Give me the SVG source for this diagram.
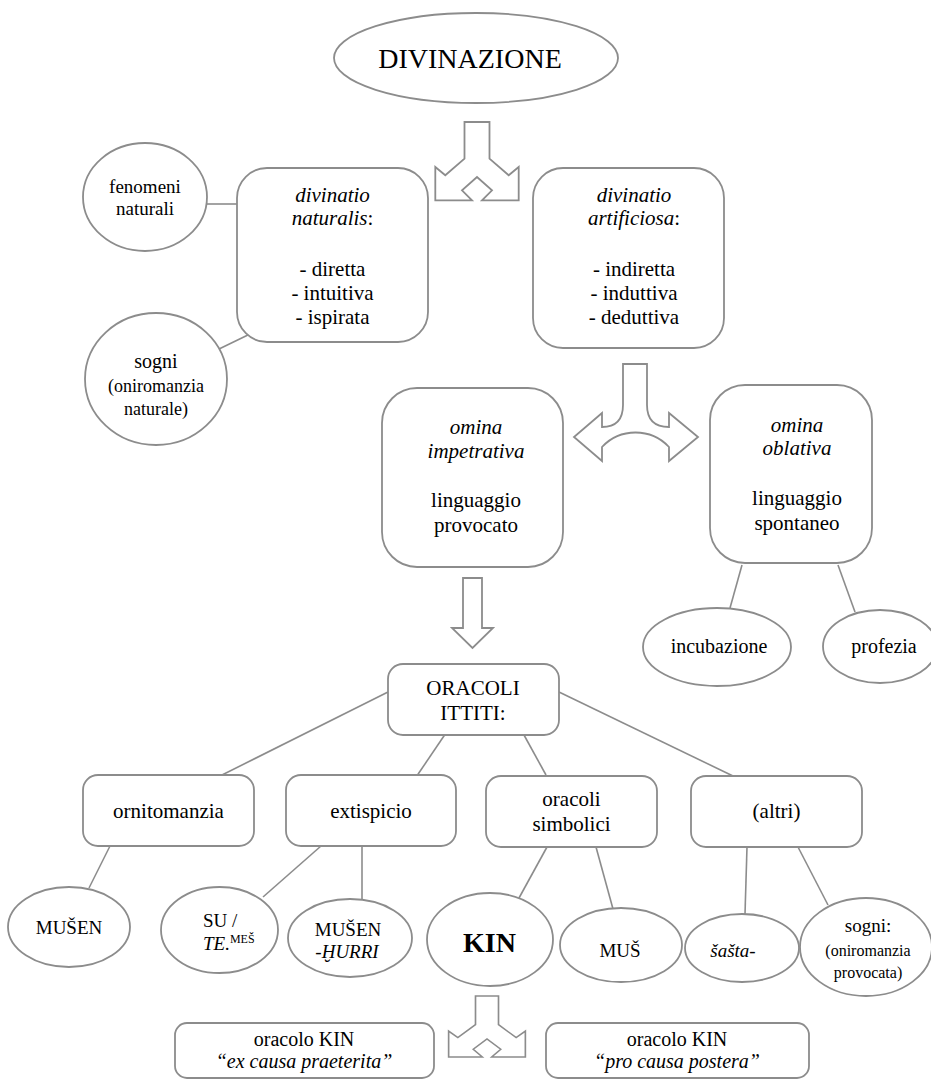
<svg xmlns="http://www.w3.org/2000/svg" xmlns:xlink="http://www.w3.org/1999/xlink" width="931" height="1081" viewBox="0 0 931 1081">
<style>
.n{fill:#fff;stroke:#8c8c8c;stroke-width:1.8}
.c{stroke:#8c8c8c;stroke-width:1.6;fill:none}
.a{fill:#fff;stroke:#8c8c8c;stroke-width:1.8;stroke-linejoin:miter}
.t{font-family:"Liberation Serif","Times New Roman","DejaVu Serif",serif;text-anchor:middle;fill:#000}
.st{text-anchor:start}
.f28{font-size:28px}
.f21{font-size:21px}
.f20{font-size:20px}
.f19{font-size:19px}
.f18{font-size:18px}
.f16{font-size:16px}
.f12{font-size:12px}
.i{font-style:italic}
.b{font-weight:bold}
</style>
<defs>
<path id="split" d="M-12.5,0 H12.5 V36.7 L31.7,53.3 L41.7,45 V78.3 H5 L15,68.3 L0,55 L-15,68.3 L-5,78.3 H-41.7 V45 L-31.7,53.3 L-12.5,36.7 Z"/>
</defs>
<rect width="931" height="1081" fill="#fff"/>
<g id="connectors">
<line class="c" x1="207" y1="204" x2="237" y2="204"/>
<line class="c" x1="217" y1="350" x2="252" y2="333"/>
<line class="c" x1="742" y1="565" x2="730" y2="608"/>
<line class="c" x1="838" y1="565" x2="855" y2="612"/>
<line class="c" x1="388" y1="692" x2="222" y2="775"/>
<line class="c" x1="444.6" y1="735" x2="417.5" y2="775"/>
<line class="c" x1="524" y1="735" x2="546" y2="775"/>
<line class="c" x1="559" y1="692" x2="733" y2="776"/>
<line class="c" x1="110" y1="846" x2="89" y2="888"/>
<line class="c" x1="321" y1="846" x2="263" y2="897"/>
<line class="c" x1="362" y1="846" x2="362" y2="899"/>
<line class="c" x1="547" y1="847" x2="519" y2="898"/>
<line class="c" x1="596" y1="847" x2="613" y2="909"/>
<line class="c" x1="747" y1="847" x2="745" y2="914"/>
<line class="c" x1="798" y1="847" x2="828" y2="905"/>
<use xlink:href="#split" class="a" transform="translate(477,122)"/>
<path class="a" d="M623,364 H647 V405 Q647,427 669,427 V413 L698,437 L669,461 V447 A46,46 0 0 0 602,447 V461 L574,437 L602,413 V427 Q623,427 623,405 Z"/>
<path class="a" d="M463,578 H482 V628 H493 L472.5,648 L452,628 H463 Z"/>
<use xlink:href="#split" class="a" transform="translate(487,996) scale(0.92,0.78)"/>
</g>
<g id="divinazione">
<ellipse class="n" cx="476" cy="58" rx="142" ry="45"/>
<text class="t f28" x="470" y="68">DIVINAZIONE</text>
</g>
<g id="fenomeni">
<ellipse class="n" cx="145" cy="197" rx="62" ry="54"/>
<text class="t f19" x="145" y="193">fenomeni</text>
<text class="t f19" x="145" y="215">naturali</text>
</g>
<g id="sogni-naturale">
<ellipse class="n" cx="156" cy="379" rx="71" ry="66"/>
<text class="t f20" x="156" y="368">sogni</text>
<text class="t f18" x="156" y="392">(oniromanzia</text>
<text class="t f18" x="156" y="415">naturale)</text>
</g>
<g id="naturalis">
<rect class="n" x="237" y="168" width="191" height="174" rx="30"/>
<text class="t f21 i" x="332.5" y="201.5">divinatio</text>
<text class="t f21" x="332.5" y="224.5"><tspan class="i">naturalis</tspan>:</text>
<text class="t f21" x="332.5" y="275.5">- diretta</text>
<text class="t f21" x="332.5" y="299.5">- intuitiva</text>
<text class="t f21" x="332.5" y="324">- ispirata</text>
</g>
<g id="artificiosa">
<rect class="n" x="533" y="168" width="191" height="180" rx="30"/>
<text class="t f21 i" x="634" y="201.5">divinatio</text>
<text class="t f21" x="634" y="224.5"><tspan class="i">artificiosa</tspan>:</text>
<text class="t f21" x="634" y="275.5">- indiretta</text>
<text class="t f21" x="634" y="299.5">- induttiva</text>
<text class="t f21" x="634" y="324">- deduttiva</text>
</g>
<g id="impetrativa">
<rect class="n" x="382" y="388" width="181" height="179" rx="35"/>
<text class="t f21 i" x="476" y="434">omina</text>
<text class="t f21 i" x="476" y="458">impetrativa</text>
<text class="t f21" x="476" y="507">linguaggio</text>
<text class="t f21" x="476" y="532">provocato</text>
</g>
<g id="oblativa">
<rect class="n" x="710" y="385" width="162" height="178" rx="35"/>
<text class="t f21 i" x="797" y="432">omina</text>
<text class="t f21 i" x="797" y="455">oblativa</text>
<text class="t f21" x="797" y="505">linguaggio</text>
<text class="t f21" x="797" y="530">spontaneo</text>
</g>
<g id="incubazione">
<ellipse class="n" cx="717" cy="647" rx="74" ry="39"/>
<text class="t f20" x="719" y="653">incubazione</text>
</g>
<g id="profezia">
<ellipse class="n" cx="880" cy="646.5" rx="57" ry="36.5"/>
<text class="t f20" x="884" y="653">profezia</text>
</g>
<g id="oracoli-ittiti">
<rect class="n" x="388" y="664" width="171" height="71" rx="15"/>
<text class="t f21" x="473" y="695">ORACOLI</text>
<text class="t f21" x="473" y="720">ITTITI:</text>
</g>
<g id="ornitomanzia">
<rect class="n" x="83" y="775" width="171" height="71" rx="15"/>
<text class="t f21" x="168.5" y="818">ornitomanzia</text>
</g>
<g id="extispicio">
<rect class="n" x="286" y="775" width="170" height="71" rx="15"/>
<text class="t f21" x="371" y="818">extispicio</text>
</g>
<g id="simbolici">
<rect class="n" x="486" y="776" width="171" height="71" rx="15"/>
<text class="t f21" x="571.5" y="806">oracoli</text>
<text class="t f21" x="571.5" y="831">simbolici</text>
</g>
<g id="altri">
<rect class="n" x="691" y="776" width="171" height="71" rx="15"/>
<text class="t f21" x="776.5" y="818">(altri)</text>
</g>
<g id="musen">
<ellipse class="n" cx="69" cy="927" rx="61" ry="40"/>
<text class="t f19" x="69" y="934">MUŠEN</text>
</g>
<g id="su-te">
<ellipse class="n" cx="219.5" cy="930" rx="58.5" ry="43"/>
<text class="t f19 st" x="203" y="927">SU /</text>
<text class="t f19 st" x="203" y="950"><tspan class="i">TE.</tspan><tspan class="f12" dy="-7">MEŠ</tspan></text>
</g>
<g id="musen-hurri">
<ellipse class="n" cx="350" cy="938" rx="62" ry="39"/>
<text class="t f19" x="348" y="936">MUŠEN</text>
<text class="t f19 i" x="347" y="958">-ḪURRI</text>
</g>
<g id="kin">
<ellipse class="n" cx="490" cy="939.5" rx="63" ry="46.5"/>
<text class="t f28 b" x="489.5" y="952">KIN</text>
</g>
<g id="mus">
<ellipse class="n" cx="621" cy="945" rx="61" ry="37"/>
<text class="t f19" x="620" y="957">MUŠ</text>
</g>
<g id="sasta">
<ellipse class="n" cx="742" cy="948" rx="57" ry="34"/>
<text class="t f19 i" x="733" y="957">šašta-</text>
</g>
<g id="sogni-provocata">
<ellipse class="n" cx="866" cy="947" rx="66" ry="49"/>
<text class="t f19" x="868" y="932">sogni:</text>
<text class="t f16" x="868" y="956">(oniromanzia</text>
<text class="t f16" x="868" y="978">provocata)</text>
</g>
<g id="kin-praeterita">
<rect class="n" x="175" y="1023" width="259" height="55" rx="12"/>
<text class="t f20" x="304" y="1046">oracolo KIN</text>
<text class="t f20 i" x="304" y="1068">“ex causa praeterita”</text>
</g>
<g id="kin-postera">
<rect class="n" x="546" y="1023" width="263" height="55" rx="12"/>
<text class="t f20" x="677" y="1046">oracolo KIN</text>
<text class="t f20 i" x="677" y="1068">“pro causa postera”</text>
</g>
</svg>
